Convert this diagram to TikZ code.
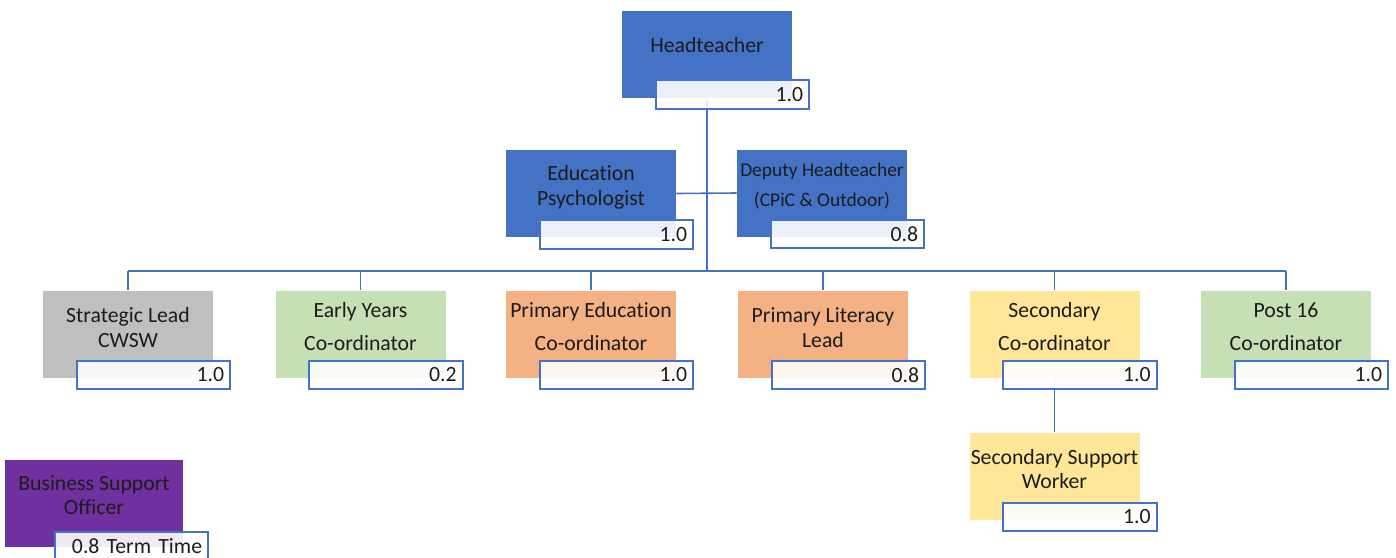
\documentclass[tikz,border=0pt]{standalone}
\usepackage{fontspec}
\setmainfont{Carlito}[Ligatures=NoCommon]
\usetikzlibrary{calc}
\definecolor{orgblue}{HTML}{4472C4}
\definecolor{orggrey}{HTML}{BFBFBF}
\definecolor{orggreen}{HTML}{C5E0B4}
\definecolor{orgorange}{HTML}{F4B183}
\definecolor{orgyellow}{HTML}{FFE699}
\definecolor{orgpurple}{HTML}{7030A0}
\definecolor{orgline}{HTML}{4472C4}
\definecolor{orgtext}{HTML}{1C1C1C}
\tikzset{
    role/.style={rectangle, minimum width=127.5pt, minimum height=65.25pt, inner sep=0pt},
    roletxt/.style={align=center, font=\fontsize{16.3}{18.5}\selectfont, text=orgtext},
    widetxt/.style={align=center, font=\fontsize{16.3}{24.75}\selectfont, text=orgtext},
    valbox/.style={rectangle, draw=orgline, line width=1.5pt, fill=white, fill opacity=0.9, text opacity=1,
        minimum width=115pt, minimum height=21.4pt, text width=106pt, align=right,
        inner xsep=4pt, inner ysep=0pt, font=\fontsize{16.3}{18}\selectfont, text=orgtext},
    conn/.style={draw=orgline, line width=1.2pt},
}

\begin{document}
\begin{tikzpicture}[x=0.75pt,y=0.75pt,yscale=-1,xscale=1]
\useasboundingbox (0,0) rectangle (1396,557);
%Role boxes
\node[role, fill=orgblue] (ht) at (707,54) {};
\node[role, fill=orgblue] (ep) at (591,193.5) {};
\node[role, fill=orgblue] (dh) at (822,193) {};
\node[role, fill=orggrey] (sl) at (128,334) {};
\node[role, fill=orggreen] (ey) at (360.5,334) {};
\node[role, fill=orgorange] (pe) at (591,334) {};
\node[role, fill=orgorange] (pl) at (823,334) {};
\node[role, fill=orgyellow] (sec) at (1054.5,334) {};
\node[role, fill=orggreen] (p16) at (1286,334) {};
\node[role, fill=orgyellow] (ssw) at (1054.5,476) {};
\node[role, fill=orgpurple, minimum width=133.5pt] (bso) at (94,503) {};
%Connectors
\coordinate (bus) at (707,271);
\draw[conn] (ht.south) -- (bus);
\draw[conn] (ep.east) -- (dh.west);
\draw[conn] (bus -| sl.north) -- (bus -| p16.north);
\foreach \who in {sl,ey,pe,pl,sec,p16}
    \draw[conn] (bus -| \who.north) -- (\who.north);
\draw[conn] (sec.south) -- (ssw.north);
%Value boxes
\node[valbox] (htv) at ($(ht.south)+(25.5,-3.5)$) {1.0};
\node[valbox] (epv) at ($(ep.south)+(25.5,-3)$) {1.0};
\node[valbox] (dhv) at ($(dh.south)+(25.5,-3)$) {0.8};
\node[valbox] (slv) at ($(sl.south)+(25.5,-3)$) {1.0};
\node[valbox] (eyv) at ($(ey.south)+(25.5,-3)$) {0.2};
\node[valbox] (pev) at ($(pe.south)+(25.5,-3)$) {1.0};
\node[valbox] (plv) at ($(pl.south)+(25.5,-3)$) {0.8};
\node[valbox] (secv) at ($(sec.south)+(25.5,-3)$) {1.0};
\node[valbox] (p16v) at ($(p16.south)+(25.5,-3)$) {1.0};
\node[valbox] (sswv) at ($(ssw.south)+(25.5,-3)$) {1.0};
\node[valbox] (bsov) at ($(bso.south)+(37.5,-1)$) {0.8 Term Time};
%Texts
\node[roletxt] at ($(ht)+(0,-9)$) {Headteacher};
\node[roletxt] at ($(ep)+(0,-6.5)$) {Education\\Psychologist};
\node[roletxt, font=\fontsize{14.6}{22.5}\selectfont] at ($(dh)+(0,-7)$) {Deputy Headteacher\\(CPiC \& Outdoor)};
\node[roletxt] at ($(sl)+(0,-6.5)$) {Strategic Lead\\CWSW};
\node[widetxt] at ($(ey)+(0,-7.5)$) {Early Years\\Co-ordinator};
\node[widetxt] at ($(pe)+(0,-7.5)$) {Primary Education\\Co-ordinator};
\node[roletxt] at ($(pl)+(0,-6.5)$) {Primary Literacy\\Lead};
\node[widetxt] at ($(sec)+(0,-7.5)$) {Secondary\\Co-ordinator};
\node[widetxt] at ($(p16)+(0,-7.5)$) {Post 16\\Co-ordinator};
\node[roletxt] at ($(ssw)+(0,-7)$) {Secondary Support\\Worker};
\node[roletxt] at ($(bso)+(0,-8)$) {Business Support\\Officer};
\end{tikzpicture}
\end{document}
